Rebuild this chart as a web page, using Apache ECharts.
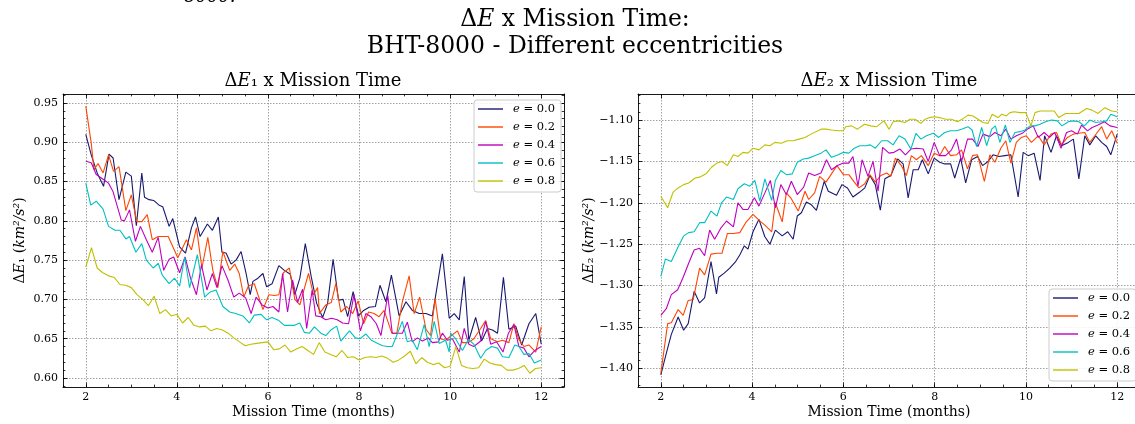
<!DOCTYPE html>
<html><head><meta charset="utf-8">
<script src="https://cdn.jsdelivr.net/npm/echarts@6/dist/echarts.min.js"></script>
<style>html,body{margin:0;padding:0;background:#fff}#c{width:1135px;height:424px}</style>
</head><body><div id="c"></div>
<script>
// ---------------- data ----------------
const SERIES_NAMES = ['e = 0.0', 'e = 0.2', 'e = 0.4', 'e = 0.6', 'e = 0.8'];
const COLORS = ['#191970', '#ff4500', '#c000c0', '#00c0c0', '#c0c000'];

const X_TICKS = [2, 4, 6, 8, 10, 12];
const Y1_TICKS = [0.60, 0.65, 0.70, 0.75, 0.80, 0.85, 0.90, 0.95];
const Y2_TICKS = [-1.40, -1.35, -1.30, -1.25, -1.20, -1.15, -1.10];

// sampling grid (months) used by the e=0.8 curve of the first panel
const MONTHS_81 = Array.from({length: 81}, (_, i) => 2 + i * 0.125);

// ---- Delta E1 (km^2/s^2), [month, value]
const DE1_E00 = [[2.00,0.910],[2.12,0.884],[2.25,0.861],[2.39,0.844],[2.51,0.885],[2.60,0.880],[2.73,0.827],[2.88,0.862],[3.00,0.857],[3.11,0.794],[3.23,0.861],[3.29,0.830],[3.39,0.827],[3.49,0.826],[3.61,0.820],[3.69,0.818],[3.83,0.793],[3.91,0.803],[4.06,0.767],[4.19,0.759],[4.32,0.791],[4.41,0.805],[4.51,0.780],[4.67,0.796],[4.78,0.788],[4.91,0.805],[4.99,0.760],[5.08,0.759],[5.19,0.745],[5.30,0.750],[5.41,0.761],[5.52,0.733],[5.61,0.706],[5.67,0.723],[5.78,0.727],[5.89,0.733],[5.97,0.716],[6.09,0.720],[6.24,0.743],[6.36,0.737],[6.49,0.732],[6.59,0.706],[6.70,0.727],[6.82,0.771],[6.95,0.729],[7.07,0.695],[7.20,0.677],[7.31,0.695],[7.43,0.751],[7.55,0.699],[7.65,0.700],[7.75,0.678],[7.87,0.710],[7.99,0.679],[8.10,0.686],[8.22,0.690],[8.36,0.691],[8.46,0.718],[8.59,0.697],[8.71,0.731],[8.88,0.679],[9.03,0.697],[9.17,0.686],[9.32,0.682],[9.47,0.682],[9.61,0.679],[9.83,0.758],[9.98,0.676],[10.09,0.682],[10.20,0.674],[10.31,0.729],[10.41,0.648],[10.56,0.677],[10.69,0.647],[10.82,0.663],[10.93,0.661],[11.04,0.657],[11.17,0.728],[11.29,0.662],[11.44,0.666],[11.57,0.642],[11.73,0.669],[11.88,0.682],[12.00,0.643]];
const DE1_E02 = [[2.00,0.946],[2.12,0.899],[2.18,0.865],[2.27,0.873],[2.38,0.861],[2.50,0.884],[2.61,0.863],[2.73,0.869],[2.88,0.813],[3.00,0.833],[3.12,0.799],[3.23,0.799],[3.35,0.808],[3.46,0.776],[3.59,0.780],[3.69,0.780],[3.81,0.780],[4.02,0.753],[4.21,0.776],[4.32,0.763],[4.43,0.791],[4.55,0.740],[4.68,0.779],[4.79,0.737],[4.90,0.715],[5.01,0.761],[5.16,0.737],[5.27,0.745],[5.37,0.733],[5.47,0.703],[5.57,0.717],[5.70,0.720],[5.89,0.687],[6.02,0.706],[6.14,0.705],[6.24,0.706],[6.34,0.734],[6.47,0.740],[6.59,0.700],[6.70,0.693],[6.89,0.733],[7.00,0.706],[7.09,0.715],[7.13,0.682],[7.27,0.693],[7.39,0.696],[7.49,0.720],[7.60,0.684],[7.73,0.691],[7.86,0.682],[7.98,0.698],[8.10,0.669],[8.21,0.684],[8.33,0.682],[8.44,0.678],[8.55,0.686],[8.72,0.657],[8.83,0.657],[8.95,0.697],[9.10,0.730],[9.21,0.682],[9.33,0.703],[9.47,0.662],[9.57,0.654],[9.67,0.701],[9.79,0.650],[9.90,0.648],[10.03,0.654],[10.16,0.660],[10.27,0.645],[10.40,0.645],[10.52,0.650],[10.67,0.663],[10.78,0.673],[10.89,0.650],[11.04,0.646],[11.15,0.648],[11.29,0.645],[11.40,0.669],[11.51,0.649],[11.62,0.640],[11.73,0.642],[11.88,0.633],[12.00,0.665]];
const DE1_E04 = [[2.00,0.876],[2.12,0.874],[2.23,0.859],[2.38,0.853],[2.50,0.848],[2.60,0.837],[2.78,0.801],[2.85,0.800],[2.96,0.814],[3.09,0.774],[3.20,0.793],[3.33,0.776],[3.46,0.760],[3.59,0.779],[3.71,0.737],[3.83,0.751],[3.93,0.754],[4.06,0.734],[4.18,0.754],[4.30,0.727],[4.43,0.706],[4.54,0.744],[4.66,0.712],[4.78,0.733],[4.88,0.715],[4.99,0.743],[5.12,0.725],[5.25,0.703],[5.37,0.708],[5.51,0.702],[5.63,0.682],[5.74,0.703],[5.87,0.693],[6.00,0.689],[6.11,0.691],[6.24,0.684],[6.32,0.733],[6.43,0.684],[6.54,0.725],[6.65,0.696],[6.76,0.713],[6.85,0.663],[6.97,0.712],[7.05,0.679],[7.16,0.678],[7.27,0.674],[7.40,0.676],[7.52,0.674],[7.64,0.670],[7.77,0.669],[7.89,0.706],[8.03,0.660],[8.15,0.682],[8.26,0.678],[8.38,0.669],[8.48,0.654],[8.63,0.705],[8.73,0.657],[8.84,0.657],[8.95,0.657],[9.06,0.671],[9.17,0.646],[9.28,0.651],[9.39,0.647],[9.52,0.651],[9.61,0.645],[9.74,0.646],[9.83,0.657],[9.94,0.648],[10.05,0.650],[10.20,0.633],[10.31,0.663],[10.41,0.643],[10.52,0.640],[10.67,0.647],[10.78,0.672],[10.89,0.643],[11.02,0.646],[11.16,0.633],[11.28,0.657],[11.40,0.668],[11.51,0.640],[11.62,0.638],[11.73,0.627],[11.86,0.635],[12.00,0.640]];
const DE1_E06 = [[2.00,0.848],[2.11,0.820],[2.23,0.825],[2.38,0.815],[2.50,0.793],[2.64,0.788],[2.75,0.788],[2.88,0.777],[2.96,0.780],[3.10,0.760],[3.23,0.771],[3.33,0.750],[3.48,0.740],[3.59,0.746],[3.68,0.731],[3.83,0.720],[3.95,0.727],[4.06,0.717],[4.17,0.754],[4.28,0.715],[4.45,0.757],[4.61,0.703],[4.72,0.709],[4.86,0.712],[5.01,0.691],[5.16,0.684],[5.29,0.682],[5.45,0.679],[5.59,0.670],[5.70,0.680],[5.85,0.681],[5.97,0.674],[6.09,0.677],[6.24,0.673],[6.36,0.667],[6.47,0.667],[6.58,0.667],[6.70,0.670],[6.80,0.658],[6.91,0.657],[7.02,0.665],[7.16,0.657],[7.27,0.654],[7.38,0.661],[7.51,0.666],[7.60,0.647],[7.79,0.660],[7.92,0.651],[8.02,0.650],[8.15,0.656],[8.27,0.648],[8.41,0.644],[8.52,0.641],[8.63,0.640],[8.73,0.640],[8.95,0.672],[9.06,0.646],[9.17,0.648],[9.28,0.636],[9.43,0.668],[9.54,0.640],[9.65,0.672],[9.76,0.644],[9.90,0.648],[9.98,0.633],[10.01,0.657],[10.12,0.650],[10.27,0.635],[10.40,0.649],[10.52,0.643],[10.67,0.625],[10.78,0.635],[10.91,0.640],[11.04,0.638],[11.15,0.627],[11.29,0.626],[11.42,0.642],[11.51,0.640],[11.62,0.630],[11.73,0.631],[11.85,0.619],[12.00,0.623]];
const DE1_E08_VALUES = [0.741,0.766,0.740,0.734,0.730,0.728,0.719,0.718,0.715,0.706,0.700,0.692,0.704,0.682,0.687,0.679,0.681,0.670,0.677,0.667,0.665,0.666,0.660,0.663,0.661,0.657,0.651,0.646,0.641,0.643,0.644,0.645,0.646,0.636,0.637,0.642,0.633,0.637,0.640,0.635,0.630,0.645,0.633,0.630,0.627,0.635,0.626,0.627,0.623,0.626,0.627,0.626,0.628,0.625,0.620,0.623,0.628,0.634,0.618,0.626,0.620,0.617,0.619,0.613,0.615,0.640,0.616,0.613,0.612,0.613,0.624,0.619,0.617,0.616,0.610,0.610,0.612,0.616,0.606,0.612,0.613];

// ---- Delta E2 (km^2/s^2), [month, value]
const DE2_E00 = [[2.00,-1.408],[2.12,-1.382],[2.23,-1.359],[2.38,-1.338],[2.50,-1.354],[2.60,-1.346],[2.73,-1.307],[2.85,-1.321],[2.96,-1.315],[3.10,-1.271],[3.22,-1.310],[3.27,-1.290],[3.39,-1.285],[3.51,-1.279],[3.64,-1.271],[3.73,-1.263],[3.83,-1.252],[3.91,-1.256],[4.02,-1.235],[4.15,-1.220],[4.28,-1.241],[4.39,-1.250],[4.51,-1.233],[4.66,-1.240],[4.78,-1.235],[4.90,-1.244],[4.99,-1.216],[5.08,-1.212],[5.19,-1.199],[5.29,-1.202],[5.41,-1.209],[5.58,-1.174],[5.67,-1.186],[5.85,-1.191],[5.97,-1.178],[6.09,-1.182],[6.21,-1.193],[6.36,-1.187],[6.47,-1.182],[6.58,-1.167],[6.70,-1.178],[6.81,-1.209],[6.91,-1.171],[7.04,-1.167],[7.19,-1.147],[7.31,-1.153],[7.42,-1.194],[7.53,-1.160],[7.64,-1.160],[7.73,-1.148],[7.86,-1.165],[7.99,-1.146],[8.11,-1.151],[8.22,-1.153],[8.35,-1.153],[8.44,-1.170],[8.57,-1.146],[8.68,-1.176],[8.81,-1.148],[8.94,-1.144],[9.05,-1.155],[9.17,-1.150],[9.28,-1.142],[9.41,-1.144],[9.54,-1.143],[9.67,-1.142],[9.83,-1.193],[9.94,-1.139],[10.05,-1.143],[10.18,-1.140],[10.31,-1.173],[10.41,-1.119],[10.55,-1.139],[10.67,-1.119],[10.78,-1.131],[10.93,-1.127],[11.04,-1.123],[11.16,-1.171],[11.29,-1.119],[11.40,-1.130],[11.53,-1.119],[11.66,-1.127],[11.77,-1.132],[11.86,-1.142],[12.00,-1.117]];
const DE2_E02 = [[2.00,-1.406],[2.15,-1.346],[2.23,-1.345],[2.38,-1.329],[2.49,-1.336],[2.60,-1.318],[2.71,-1.317],[2.85,-1.279],[2.96,-1.287],[3.10,-1.262],[3.23,-1.261],[3.34,-1.261],[3.46,-1.237],[3.59,-1.237],[3.73,-1.236],[3.86,-1.224],[4.02,-1.214],[4.15,-1.221],[4.28,-1.227],[4.43,-1.235],[4.51,-1.200],[4.66,-1.223],[4.75,-1.188],[4.86,-1.195],[5.01,-1.210],[5.16,-1.186],[5.24,-1.196],[5.37,-1.188],[5.48,-1.168],[5.62,-1.175],[5.74,-1.165],[5.86,-1.155],[6.00,-1.166],[6.12,-1.166],[6.24,-1.175],[6.34,-1.182],[6.47,-1.177],[6.58,-1.166],[6.70,-1.175],[6.82,-1.167],[6.95,-1.164],[7.04,-1.168],[7.14,-1.146],[7.27,-1.155],[7.38,-1.167],[7.49,-1.143],[7.60,-1.148],[7.71,-1.143],[7.86,-1.155],[7.99,-1.140],[8.11,-1.143],[8.22,-1.132],[8.35,-1.143],[8.48,-1.142],[8.59,-1.136],[8.72,-1.159],[8.83,-1.143],[8.94,-1.142],[9.09,-1.174],[9.21,-1.142],[9.32,-1.151],[9.45,-1.134],[9.56,-1.125],[9.67,-1.152],[9.79,-1.127],[9.90,-1.121],[10.01,-1.119],[10.12,-1.127],[10.27,-1.119],[10.40,-1.130],[10.55,-1.117],[10.67,-1.115],[10.78,-1.130],[10.91,-1.121],[11.04,-1.117],[11.15,-1.116],[11.29,-1.115],[11.40,-1.127],[11.51,-1.119],[11.66,-1.108],[11.77,-1.123],[11.88,-1.113],[12.00,-1.128]];
const DE2_E04 = [[2.00,-1.336],[2.12,-1.328],[2.23,-1.311],[2.37,-1.305],[2.49,-1.290],[2.61,-1.273],[2.73,-1.257],[2.85,-1.255],[2.96,-1.264],[3.07,-1.233],[3.18,-1.244],[3.31,-1.231],[3.44,-1.222],[3.59,-1.229],[3.69,-1.200],[3.80,-1.208],[3.91,-1.208],[4.05,-1.194],[4.15,-1.204],[4.28,-1.188],[4.40,-1.173],[4.51,-1.206],[4.63,-1.178],[4.75,-1.190],[4.86,-1.174],[4.99,-1.190],[5.13,-1.181],[5.24,-1.164],[5.37,-1.167],[5.51,-1.164],[5.63,-1.148],[5.74,-1.160],[5.87,-1.155],[6.00,-1.152],[6.12,-1.152],[6.21,-1.144],[6.32,-1.180],[6.41,-1.148],[6.54,-1.168],[6.65,-1.150],[6.76,-1.186],[6.86,-1.133],[7.00,-1.140],[7.11,-1.139],[7.24,-1.135],[7.36,-1.142],[7.48,-1.135],[7.60,-1.134],[7.75,-1.135],[7.86,-1.150],[7.99,-1.127],[8.11,-1.143],[8.24,-1.143],[8.37,-1.136],[8.48,-1.123],[8.59,-1.150],[8.72,-1.123],[8.83,-1.123],[8.95,-1.132],[9.06,-1.117],[9.21,-1.120],[9.32,-1.115],[9.45,-1.119],[9.56,-1.111],[9.67,-1.123],[9.79,-1.119],[9.92,-1.116],[10.03,-1.111],[10.16,-1.107],[10.27,-1.121],[10.40,-1.115],[10.52,-1.121],[10.63,-1.115],[10.77,-1.134],[10.89,-1.115],[11.00,-1.113],[11.13,-1.117],[11.22,-1.106],[11.35,-1.113],[11.45,-1.109],[11.58,-1.106],[11.72,-1.102],[11.84,-1.107],[12.00,-1.109]];
const DE2_E06 = [[2.00,-1.289],[2.10,-1.268],[2.23,-1.271],[2.38,-1.253],[2.50,-1.240],[2.61,-1.236],[2.73,-1.235],[2.85,-1.224],[2.96,-1.224],[3.10,-1.210],[3.23,-1.216],[3.33,-1.200],[3.44,-1.193],[3.59,-1.196],[3.69,-1.183],[3.83,-1.177],[3.95,-1.180],[4.06,-1.173],[4.17,-1.198],[4.28,-1.171],[4.43,-1.197],[4.51,-1.173],[4.63,-1.161],[4.75,-1.166],[4.88,-1.165],[4.99,-1.151],[5.12,-1.147],[5.24,-1.146],[5.37,-1.143],[5.51,-1.140],[5.62,-1.136],[5.74,-1.145],[5.89,-1.142],[6.00,-1.139],[6.12,-1.140],[6.24,-1.134],[6.36,-1.131],[6.49,-1.131],[6.59,-1.130],[6.70,-1.134],[6.84,-1.125],[6.97,-1.125],[7.09,-1.130],[7.22,-1.119],[7.35,-1.123],[7.48,-1.135],[7.59,-1.116],[7.70,-1.123],[7.82,-1.119],[7.97,-1.116],[8.09,-1.121],[8.22,-1.115],[8.35,-1.113],[8.48,-1.113],[8.59,-1.111],[8.73,-1.108],[8.82,-1.112],[8.92,-1.132],[9.03,-1.109],[9.14,-1.131],[9.25,-1.111],[9.33,-1.107],[9.43,-1.127],[9.55,-1.106],[9.65,-1.127],[9.76,-1.115],[9.87,-1.114],[9.98,-1.112],[10.09,-1.107],[10.20,-1.107],[10.31,-1.105],[10.43,-1.102],[10.56,-1.100],[10.69,-1.101],[10.79,-1.107],[10.93,-1.102],[11.04,-1.101],[11.16,-1.102],[11.28,-1.107],[11.40,-1.100],[11.53,-1.103],[11.66,-1.102],[11.77,-1.101],[11.86,-1.093],[12.00,-1.096]];
const DE2_E08 = [[2.00,-1.192],[2.15,-1.206],[2.27,-1.187],[2.38,-1.182],[2.50,-1.178],[2.61,-1.176],[2.75,-1.170],[2.85,-1.169],[2.99,-1.165],[3.11,-1.157],[3.23,-1.152],[3.34,-1.150],[3.46,-1.155],[3.59,-1.142],[3.69,-1.144],[3.80,-1.139],[3.91,-1.140],[4.02,-1.134],[4.15,-1.136],[4.28,-1.130],[4.39,-1.131],[4.50,-1.127],[4.64,-1.128],[4.77,-1.125],[4.90,-1.125],[5.03,-1.123],[5.16,-1.121],[5.29,-1.117],[5.51,-1.111],[5.62,-1.111],[5.74,-1.112],[5.89,-1.113],[6.00,-1.113],[6.05,-1.108],[6.18,-1.107],[6.31,-1.111],[6.46,-1.105],[6.60,-1.107],[6.73,-1.108],[6.89,-1.101],[7.00,-1.111],[7.09,-1.102],[7.20,-1.101],[7.35,-1.103],[7.46,-1.099],[7.57,-1.099],[7.70,-1.104],[7.79,-1.099],[7.89,-1.097],[8.00,-1.096],[8.11,-1.097],[8.24,-1.099],[8.37,-1.099],[8.50,-1.102],[8.63,-1.098],[8.73,-1.094],[8.84,-1.095],[8.95,-1.099],[9.06,-1.103],[9.17,-1.104],[9.26,-1.093],[9.39,-1.097],[9.47,-1.093],[9.57,-1.095],[9.65,-1.091],[9.74,-1.090],[9.87,-1.091],[10.00,-1.091],[10.11,-1.107],[10.20,-1.091],[10.31,-1.089],[10.49,-1.089],[10.62,-1.089],[10.72,-1.097],[10.87,-1.092],[11.00,-1.092],[11.16,-1.092],[11.33,-1.086],[11.45,-1.088],[11.58,-1.092],[11.73,-1.085],[11.88,-1.089],[12.00,-1.090]];

// ---------------- chart ----------------
const FONT = "'DejaVu Serif', serif";
const DE1_E08 = MONTHS_81.map((m, i) => [m, DE1_E08_VALUES[i]]);
const PANEL1 = [DE1_E00, DE1_E02, DE1_E04, DE1_E06, DE1_E08];
const PANEL2 = [DE2_E00, DE2_E02, DE2_E04, DE2_E06, DE2_E08];

function steps(a, b, s) {
  const out = [];
  const n = Math.round((b - a) / s);
  for (let i = 0; i <= n; i++) out.push(+(a + i * s).toFixed(4));
  return out;
}
const X_MINOR = steps(1.5, 12.5, 0.5);
const Y1_MINOR = steps(0.59, 0.96, 0.01);
const Y2_MINOR = steps(-1.42, -1.07, 0.01);

const fmtNum = v => (Math.abs(v) < 1e-9 ? '0' : (Number.isInteger(v) ? String(v) : v.toFixed(2))).replace('-', '\u2212');

function axes(dim, gridIndex, range, major, minor, name, nameGap) {
  const isX = dim === 'x';
  const sides = isX ? ['bottom', 'top'] : ['left', 'right'];
  const list = [];
  [[sides[0], true], [sides[0], false], [sides[1], true], [sides[1], false]].forEach(([pos, isMajor], k) => {
    const primary = k === 0;
    const ax = {
      type: 'value', gridIndex, position: pos, min: range[0], max: range[1],
      silent: true, axisPointer: {show: false},
      axisLine: {show: isMajor, onZero: false, lineStyle: {color: '#000', width: 0.9}},
      axisTick: {show: true, inside: true, length: isMajor ? 4.5 : 2.4, customValues: isMajor ? major : minor,
                 lineStyle: {color: '#000', width: 0.8}},
      axisLabel: primary ? {show: true, customValues: major, formatter: fmtNum, color: '#000',
                 fontFamily: FONT, fontSize: 11, margin: 5} : {show: false},
      splitLine: {show: primary, lineStyle: {color: '#8a8a8a', width: 0.8, type: [1.5, 1.5]}},
      minorTick: {show: false}, minorSplitLine: {show: false}
    };
    if (primary) {
      ax.name = name;
      ax.nameLocation = 'middle';
      ax.nameGap = nameGap;
      ax.nameMoveOverlap = false;
      ax.nameTextStyle = {color: '#000', fontFamily: FONT, fontSize: 14,
        rich: {n: {fontFamily: FONT, fontSize: 14, color: '#000'},
               i: {fontFamily: FONT, fontSize: 14, fontStyle: 'italic', color: '#000'}}};
    }
    list.push(ax);
  });
  return list;
}

const RICH = size => ({
  n: {fontFamily: FONT, fontSize: size, color: '#000'},
  i: {fontFamily: FONT, fontSize: size, fontStyle: 'italic', color: '#000'}
});

const series = [];
[PANEL1, PANEL2].forEach((panel, p) => {
  panel.forEach((data, k) => {
    series.push({
      type: 'line', name: SERIES_NAMES[k], data,
      xAxisIndex: p * 4, yAxisIndex: p * 4,
      symbol: 'none', showSymbol: false, animation: false, silent: true,
      color: COLORS[k], lineStyle: {color: COLORS[k], width: 1.1}
    });
  });
});

const legendBase = {
  data: SERIES_NAMES, orient: 'vertical', itemWidth: 25, itemHeight: 14, itemGap: 4,
  icon: 'path://M0 0H25V1.4H0Z',
  backgroundColor: 'rgba(255,255,255,0.85)', borderColor: '#cccccc', borderWidth: 1, borderRadius: 3,
  padding: [2, 6, 4, 4], selectedMode: false,
  formatter: n => '{i|e}{n| = ' + n.split('= ')[1] + '}',
  textStyle: {fontFamily: FONT, fontSize: 11.5, color: '#000', lineHeight: 14, padding: [0, 0, 0, 5], rich: RICH(11.5)}
};

const option = {
  backgroundColor: '#fff',
  animation: false,
  title: [
    {text: '{n|\u0394}{i|E}{n| x Mission Time:}\n{n|BHT-8000 - Different eccentricities}',
     left: 575, top: 6, textAlign: 'center', padding: 0,
     textStyle: {fontFamily: FONT, fontSize: 23.5, fontWeight: 'normal', lineHeight: 27, color: '#000', rich: RICH(23.5)}},
    {text: '{n|\u0394}{i|E}{n|\u2081 x Mission Time}', left: 313, top: 71, textAlign: 'center', padding: 0,
     textStyle: {fontFamily: FONT, fontSize: 18, fontWeight: 'normal', lineHeight: 21, color: '#000', rich: RICH(18)}},
    {text: '{n|\u0394}{i|E}{n|\u2082 x Mission Time}', left: 889, top: 71, textAlign: 'center', padding: 0,
     textStyle: {fontFamily: FONT, fontSize: 18, fontWeight: 'normal', lineHeight: 21, color: '#000', rich: RICH(18)}}
  ],
  legend: [
    Object.assign({}, legendBase, {left: 474, top: 100}),
    Object.assign({}, legendBase, {left: 1049, top: 289})
  ],
  grid: [
    {left: 63, top: 94, width: 501, height: 293, containLabel: false, outerBoundsMode: 'none'},
    {left: 638, top: 94, width: 502, height: 293, containLabel: false, outerBoundsMode: 'none'}
  ],
  xAxis: [
    ...axes('x', 0, [1.5, 12.5], X_TICKS, X_MINOR, 'Mission Time (months)', 18),
    ...axes('x', 1, [1.5, 12.5], X_TICKS, X_MINOR, 'Mission Time (months)', 18)
  ],
  yAxis: [
    ...axes('y', 0, [0.5885, 0.9615], Y1_TICKS, Y1_MINOR, '{n|\u0394}{i|E}{n|\u2081 (}{i|km\u00b2/s\u00b2}{n|)}', 36),
    ...axes('y', 1, [-1.4226, -1.0685], Y2_TICKS, Y2_MINOR, '{n|\u0394}{i|E}{n|\u2082 (}{i|km\u00b2/s\u00b2}{n|)}', 42)
  ],
  graphic: [
    {type: 'text', left: 184, top: -12, silent: true,
     style: {text: '8000.', font: "italic 18px 'DejaVu Serif', serif", fill: '#000'}}
  ],
  series
};

const chart = echarts.init(document.getElementById('c'), null, {renderer: 'canvas'});
chart.setOption(option);
</script>
</body></html>
